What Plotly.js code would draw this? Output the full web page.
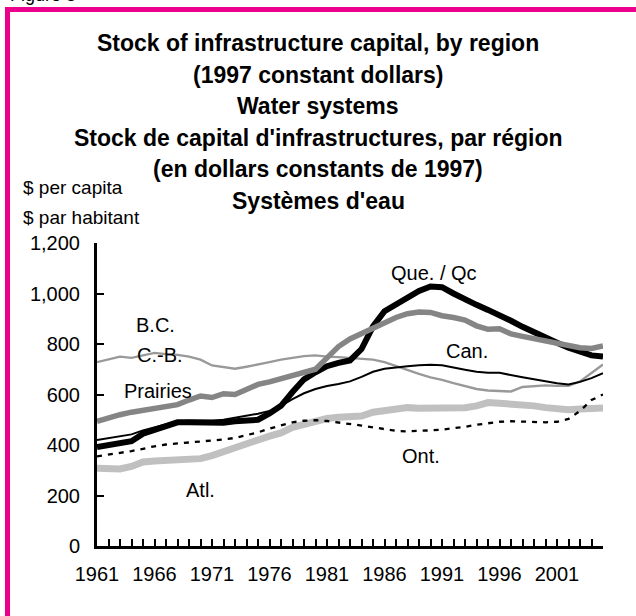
<!DOCTYPE html>
<html>
<head>
<meta charset="utf-8">
<script src="https://cdn.plot.ly/plotly-3.0.1.min.js"></script>
<style>
  html, body { margin: 0; padding: 0; background: #ffffff; }
  #chart { width: 636px; height: 616px; }
</style>
</head>
<body>
<div id="chart"></div>
<script>
// ---- data ----
const years = [1961,1962,1963,1964,1965,1966,1967,1968,1969,1970,
               1971,1972,1973,1974,1975,1976,1977,1978,1979,1980,
               1981,1982,1983,1984,1985,1986,1987,1988,1989,1990,
               1991,1992,1993,1994,1995,1996,1997,1998,1999,2000,
               2001,2002,2003,2004,2005];
const xTickLabels = ['1961','1966','1971','1976','1981','1986','1991','1996','2001'];
const yTickValues = [0,200,400,600,800,1000,1200];

const quebec   = [392,400,405,415,445,462,478,490,490,488,
                  486,488,494,496,500,525,555,610,660,688,
                  712,725,735,780,870,930,955,980,1010,1028,
                  1025,1000,975,955,935,915,892,868,845,825,
                  805,785,768,755,750];
const canada   = [420,428,435,442,458,470,482,494,496,496,
                  496,500,507,515,524,535,555,582,605,622,
                  634,642,652,670,690,702,708,712,716,718,
                  716,706,698,690,686,686,676,668,660,652,
                  645,640,650,665,684];
const bc       = [728,740,750,745,755,765,760,757,750,738,
                  715,708,702,710,718,728,738,746,752,755,
                  750,748,745,742,738,728,712,698,682,668,
                  658,645,632,622,616,614,612,630,634,636,
                  634,634,652,685,719];
const prairies = [494,508,520,530,538,546,552,560,578,594,
                  588,603,600,620,640,650,662,674,686,700,
                  745,790,820,842,862,880,905,920,927,925,
                  912,905,895,872,858,860,840,830,820,812,
                  802,795,785,782,792];
const ontario  = [355,362,368,376,385,395,402,406,410,413,
                  416,422,428,438,450,465,478,490,496,498,
                  495,490,484,477,470,462,456,454,455,458,
                  461,466,472,480,487,492,494,492,490,490,
                  492,503,535,578,600];
const atlantic = [308,306,305,315,333,337,340,343,344,346,
                  358,372,385,400,420,435,448,470,482,495,
                  505,510,512,515,530,538,545,548,546,547,
                  547,546,548,555,568,565,563,558,555,548,
                  542,540,543,546,547];

const seriesNames = ['Atl.','Ont.','B.C. / C.-B.','Can.','Que. / Qc','Prairies'];

const titleLines = [
  'Stock of infrastructure capital, by region',
  '(1997 constant dollars)',
  'Water systems',
  'Stock de capital d\'infrastructures, par région',
  '(en dollars constants de 1997)',
  'Systèmes d\'eau'
];
const unitLines = ['$ per capita', '$ par habitant'];
const figureLabel = 'Figure 5';

// ---- layout geometry (pixels) ----
const W = 636, H = 616;
const mL = 97, mR = 33, mT = 243, mB = 70;
const pw = W - mL - mR, ph = H - mT - mB;
const px2x = p => (p - mL) / pw;
const px2y = p => (H - mB - p) / ph;

const FONT = 'Liberation Sans, Arial, Helvetica, sans-serif';

// tick values for every year, labels only every 5 years
const tickVals = years.slice();
const tickText = years.map(y => xTickLabels.indexOf(String(y)) >= 0 ? String(y) : '');

const styles = {
  'Atl.':         {color: '#c0c0c0', width: 7,   dash: 'solid'},
  'Ont.':         {color: '#000000', width: 2.3, dash: '5px,6px'},
  'B.C. / C.-B.': {color: '#999999', width: 2.4, dash: 'solid'},
  'Can.':         {color: '#000000', width: 2.0, dash: 'solid'},
  'Que. / Qc':    {color: '#000000', width: 6,   dash: 'solid'},
  'Prairies':     {color: '#858585', width: 5.5, dash: 'solid'}
};
const seriesData = {
  'Atl.': atlantic, 'Ont.': ontario, 'B.C. / C.-B.': bc,
  'Can.': canada, 'Que. / Qc': quebec, 'Prairies': prairies
};

const traces = seriesNames.map(n => ({
  type: 'scatter', mode: 'lines', name: n,
  x: years, y: seriesData[n],
  line: {color: styles[n].color, width: styles[n].width, dash: styles[n].dash, shape: 'linear'},
  hoverinfo: 'skip'
}));

// in-plot series labels (year, value)
const seriesLabels = [
  {text: 'Que. / Qc', x: 1990.3, y: 1081},
  {text: 'Can.',      x: 1993.2, y: 772},
  {text: 'B.C.',      x: 1966.1, y: 875},
  {text: 'C.-B.',     x: 1966.5, y: 756},
  {text: 'Prairies',  x: 1966.3, y: 614},
  {text: 'Ont.',      x: 1989.2, y: 356},
  {text: 'Atl.',      x: 1970.0, y: 222}
];

const annotations = [];
seriesLabels.forEach(l => annotations.push({
  xref: 'x', yref: 'y', x: l.x, y: l.y, text: l.text, showarrow: false,
  xanchor: 'center', yanchor: 'middle', font: {family: FONT, size: 20, color: '#000'}
}));

const titleY = [43, 74.5, 106, 137.5, 169, 200.5];
titleLines.forEach((t, i) => annotations.push({
  xref: 'paper', yref: 'paper', x: px2x(318), y: px2y(titleY[i]), text: '<b>' + t + '</b>',
  showarrow: false, xanchor: 'center', yanchor: 'middle',
  font: {family: FONT, size: 23, color: '#000'}
}));
const unitY = [188, 217];
unitLines.forEach((t, i) => annotations.push({
  xref: 'paper', yref: 'paper', x: px2x(21), y: px2y(unitY[i]), text: t,
  showarrow: false, xanchor: 'left', yanchor: 'middle',
  font: {family: FONT, size: 19, color: '#000'}
}));
annotations.push({
  xref: 'paper', yref: 'paper', x: px2x(8), y: px2y(7), text: figureLabel,
  showarrow: false, xanchor: 'left', yanchor: 'bottom',
  font: {family: FONT, size: 18, color: '#000'}
});

const layout = {
  width: W, height: H,
  margin: {l: mL, r: mR, t: mT, b: mB, pad: 0},
  paper_bgcolor: '#ffffff', plot_bgcolor: '#ffffff',
  showlegend: false,
  font: {family: FONT, size: 20, color: '#000'},
  xaxis: {
    range: [1961, 2005], type: 'linear', fixedrange: true,
    showgrid: false, zeroline: false,
    showline: true, linecolor: '#000', linewidth: 3,
    tickmode: 'array', tickvals: tickVals, ticktext: tickText,
    ticks: 'inside', ticklen: 7, tickwidth: 2, tickcolor: '#000',
    ticklabelstandoff: 8,
    tickfont: {family: FONT, size: 20, color: '#000'}
  },
  yaxis: {
    range: [0, 1200], type: 'linear', fixedrange: true,
    showgrid: false, zeroline: false,
    showline: true, linecolor: '#000', linewidth: 3,
    tickmode: 'array', tickvals: yTickValues,
    tickformat: ',d',
    ticks: 'inside', ticklen: 7, tickwidth: 2, tickcolor: '#000',
    ticklabelstandoff: 10,
    tickfont: {family: FONT, size: 20, color: '#000'}
  },
  annotations: annotations,
  shapes: [{
    type: 'rect', xref: 'paper', yref: 'paper',
    x0: px2x(7.5), x1: px2x(650), y0: px2y(640), y1: px2y(9.5),
    line: {color: '#ec008c', width: 5}, fillcolor: 'rgba(0,0,0,0)', layer: 'below'
  }]
};

Plotly.newPlot('chart', traces, layout, {staticPlot: true, displayModeBar: false});
</script>
</body>
</html>
